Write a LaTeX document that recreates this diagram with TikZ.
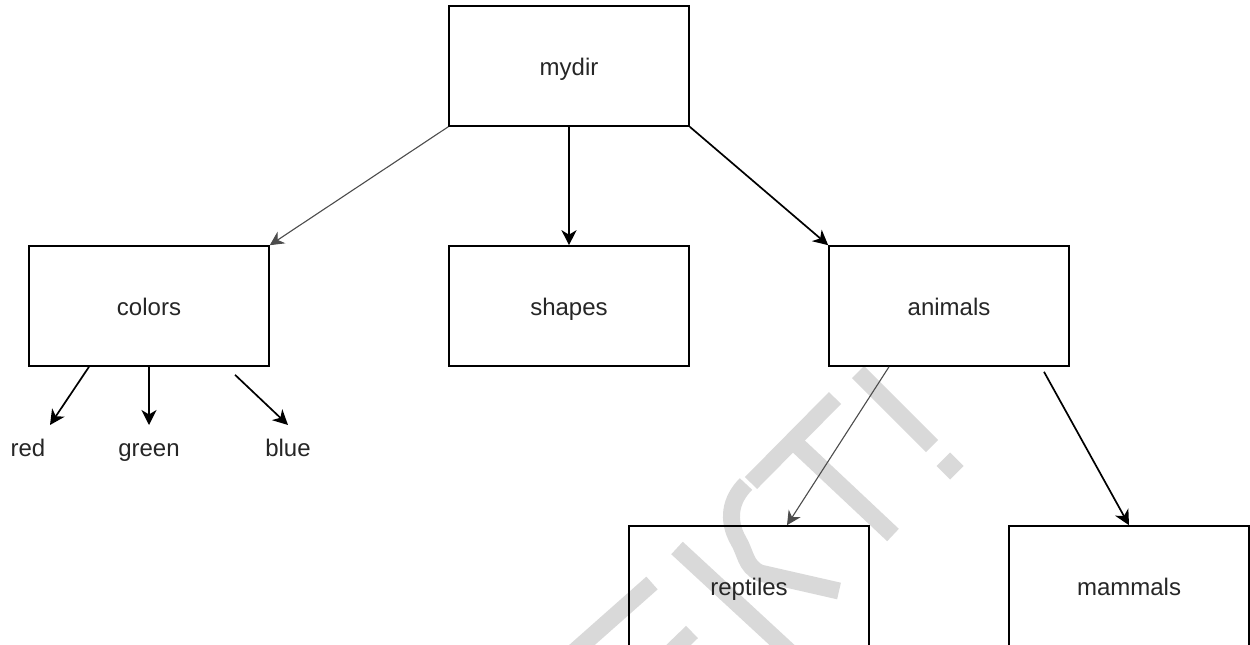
\documentclass[tikz,border=0pt]{standalone}
\usepackage{fontspec}
\setmainfont{Liberation Sans}
\usetikzlibrary{arrows.meta}
\begin{document}
\begin{tikzpicture}[x=1pt,y=-1pt,
  txt/.style={font=\fontsize{24pt}{28pt}\selectfont, text=black!85, text height=18pt, text depth=0pt},
  box/.style={txt, draw=black, line width=1.6pt, minimum width=240pt, minimum height=120pt, inner sep=0pt},
  lbl/.style={txt, inner sep=0pt},
  arr/.style={line width=1.7pt, draw=black, -{Stealth[length=15pt,width=15pt,inset=4.5pt]}},
  thinarr/.style={line width=1.1pt, draw=black!70, -{Stealth[length=14pt,width=14pt,inset=4.5pt]}},
  wm/.style={line width=17pt, draw=black!15, line cap=butt}]
\clip (0,0) rectangle (1250,645);
\fill[white] (0,0) rectangle (1250,645);
% watermark
\draw[wm] (858,372) -- (932,446);
\fill[black!15] (950,452.5) -- (963.5,466) -- (950,479.5) -- (936.5,466) -- cycle;
\draw[wm] (751,483) -- (835,398);
\draw[wm] (793,441) -- (893,535);
\draw[wm] (746,484) .. controls (730,500) and (727,520) .. (738,540)
  .. controls (746,553) and (745,566) .. (760,573) -- (839,591);
\draw[wm] (677,548) -- (795,657);
\draw[wm] (652,583) -- (565,660);
\draw[wm] (692,632) -- (665,658);
% nodes
\node[box] (mydir) at (569,66) {mydir};
\node[box] (colors) at (149,306) {colors};
\node[box] (shapes) at (569,306) {shapes};
\node[box] (animals) at (949,306) {animals};
\node[box] (reptiles) at (749,586) {reptiles};
\node[box] (mammals) at (1129,586) {mammals};
\node[lbl] (red) at (28,447) {red};
\node[lbl] (green) at (149,447) {green};
\node[lbl] (blue) at (288,447) {blue};
% connectors
\draw[thinarr] (mydir.south west) -- (colors.north east);
\draw[arr] (mydir.south) -- (shapes.north);
\draw[arr] (mydir.south east) -- (animals.north west);
\draw[arr] ([xshift=-60pt]colors.south) -- ([xshift=22pt,yshift=22pt]red.center);
\draw[arr] (colors.south) -- ([yshift=22pt]green.center);
\draw[arr] ([xshift=86pt,yshift=-8pt]colors.south) -- ([yshift=22pt]blue.center);
\draw[thinarr] ([xshift=-60pt]animals.south) -- ([xshift=38pt]reptiles.north);
\draw[arr] ([xshift=95pt,yshift=-5pt]animals.south) -- (mammals.north);
\end{tikzpicture}
\end{document}
